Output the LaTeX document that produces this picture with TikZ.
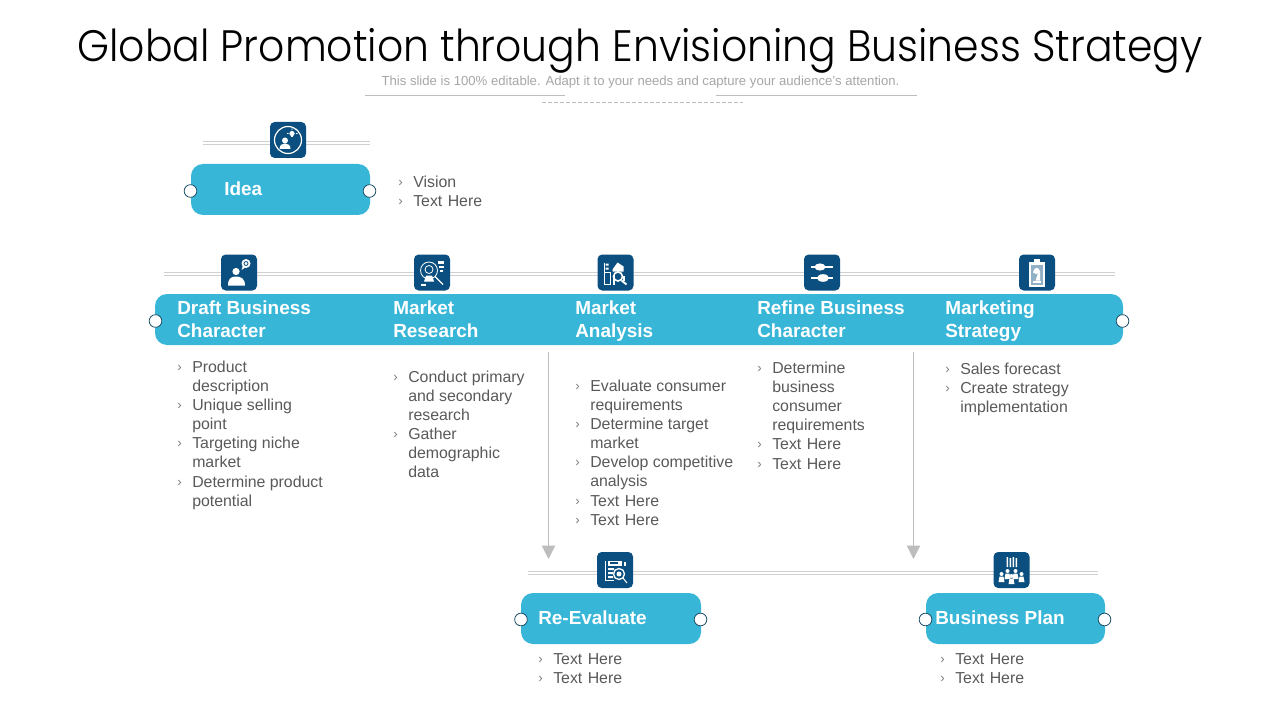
\documentclass[tikz,border=0pt]{standalone}
\usepackage{fontspec}
\setmainfont{Liberation Sans}
\newfontfamily\titlefont{Poppins Light}
\usetikzlibrary{arrows.meta}
\definecolor{pillblue}{HTML}{38B6D8}
\definecolor{icondark}{HTML}{0A4F7F}
\definecolor{bodygrey}{HTML}{595959}
\definecolor{chevgrey}{HTML}{7F7F7F}
\definecolor{subgrey}{HTML}{A6A6A6}
\definecolor{rulegrey}{HTML}{D0D0D0}
\definecolor{arrowgrey}{HTML}{BDBDBD}
\definecolor{ringdark}{HTML}{1C4F66}
\tikzset{
  pill/.style={fill=pillblue,draw=none,rounded corners=9pt},
  ring/.style={circle,fill=white,draw=ringdark,line width=.6pt,minimum size=9.5pt,inner sep=0pt},
  headtext/.style={anchor=north west,inner sep=0pt,align=left,text=white,font=\fontsize{14.2}{17.2}\selectfont\bfseries},
  bodytext/.style={anchor=north west,inner sep=0pt,align=left,text=bodygrey,font=\fontsize{11.9}{14.35}\selectfont},
  chev/.style={anchor=north west,inner sep=0pt,text=chevgrey,font=\fontsize{10}{12}\selectfont},
  iconbox/.style={fill=icondark,rounded corners=3.5pt,minimum size=27pt,inner sep=0pt,draw=none},
  railline/.style={draw=rulegrey,line width=.75pt},
  downarrow/.style={draw=arrowgrey,line width=.75pt,-{Triangle[length=10pt,width=10pt,fill=arrowgrey]}},
  ico/.style={fill=white,draw=none},
  icol/.style={draw=white,line width=.6pt,fill=none},
  titletext/.style={inner sep=0pt,font=\titlefont\fontsize{33}{40}\selectfont,text=black},
  subtext/.style={inner sep=0pt,text=subgrey,font=\fontsize{9.85}{12}\selectfont},
}
\newcommand{\tthere}{Text\hspace{.34em}Here}
\newcommand{\bitem}[4]{%
  \node[chev] (#1c) at (#2,#3+5) {›};
  \node[bodytext] (#1) at (#2+15,#3) {\rule{0pt}{9pt}#4};
}
\newcommand{\headt}[4]{\node[headtext] (#1) at (#2,#3) {\rule{0pt}{11pt}#4};}
\begin{document}
\begin{tikzpicture}[x=.75pt,y=-.75pt]
\useasboundingbox (0,0) rectangle (1280,720);
% title
\node[titletext,xscale=.93] (title) at (640,50.5) {Global Promotion through Envisioning Business Strategy};
\node[subtext] (sub) at (640.5,82.5) {This slide is 100\%{} editable. Adapt it to your needs and capture your audience's attention.};
\coordinate (tl1) at (365,95.5);\coordinate (tl2) at (565,95.5);
\coordinate (tr1) at (716,95.5);\coordinate (tr2) at (917,95.5);
\coordinate (td1) at (542,102.5);\coordinate (td2) at (743,102.5);
\draw[draw=arrowgrey,line width=.6pt] (tl1)--(tl2) (tr1)--(tr2);
\draw[draw=arrowgrey,line width=.6pt,dash pattern=on 3pt off 1.5pt] (td1)--(td2);
% rails
\foreach \ya in {141.5,144.5}{
  \coordinate (ra1) at (203,\ya);\coordinate (ra2) at (370,\ya);
  \draw[railline] (ra1)--(ra2);}
\foreach \ya in {272.5,275.5}{
  \coordinate (rb1) at (164,\ya);\coordinate (rb2) at (1115,\ya);
  \draw[railline] (rb1)--(rb2);}
\foreach \ya in {571.5,574.5}{
  \coordinate (rc1) at (528,\ya);\coordinate (rc2) at (1098,\ya);
  \draw[railline] (rc1)--(rc2);}
% pills
\path[pill] (191,164) rectangle (370,215);
\path[pill] (155,294) rectangle (1123,345);
\path[pill] (521,593) rectangle (701,644);
\path[pill] (926,593) rectangle (1105,644);
\node[ring] (r1) at (190.5,191) {};
\node[ring] (r2) at (369.5,191) {};
\node[ring] (r3) at (155.5,321) {};
\node[ring] (r4) at (1122.5,321) {};
\node[ring] (r5) at (521,619.5) {};
\node[ring] (r6) at (700.5,619.5) {};
\node[ring] (r7) at (925.5,619.5) {};
\node[ring] (r8) at (1104.5,619.5) {};
% arrows
\coordinate (a1s) at (548.5,352);\coordinate (a1e) at (548.5,559);
\coordinate (a2s) at (913.5,352);\coordinate (a2e) at (913.5,559);
\draw[downarrow] (a1s)--(a1e);
\draw[downarrow] (a2s)--(a2e);
% headings
\headt{hidea}{224}{181}{Idea}
\headt{hdraft}{177}{300}{Draft Business\\Character}
\headt{hres}{393}{300}{Market\\Research}
\headt{hana}{575}{300}{Market\\Analysis}
\headt{href}{757}{300}{Refine Business\\Character}
\headt{hmkt}{945}{300}{Marketing\\Strategy}
\headt{hree}{538}{610}{Re-Evaluate}
\headt{hbp}{935}{610}{Business Plan}
% bullets
\bitem{b1}{398}{175}{Vision}
\bitem{b2}{398}{194}{\tthere}
\bitem{d1}{177}{360}{Product\\description}
\bitem{d2}{177}{398}{Unique selling\\point}
\bitem{d3}{177}{436}{Targeting niche\\market}
\bitem{d4}{177}{475}{Determine product\\potential}
\bitem{m1}{393}{370}{Conduct primary\\and secondary\\research}
\bitem{m2}{393}{427}{Gather\\demographic\\data}
\bitem{n1}{575}{379}{Evaluate consumer\\requirements}
\bitem{n2}{575}{417}{Determine target\\market}
\bitem{n3}{575}{455}{Develop competitive\\analysis}
\bitem{n4}{575}{494}{\tthere}
\bitem{n5}{575}{513}{\tthere}
\bitem{f1}{757}{361}{Determine\\business\\consumer\\requirements}
\bitem{f2}{757}{437}{\tthere}
\bitem{f3}{757}{457}{\tthere}
\bitem{s1}{945}{362}{Sales forecast}
\bitem{s2}{945}{381}{Create strategy\\implementation}
\bitem{e1}{538}{652}{\tthere}
\bitem{e2}{538}{671}{\tthere}
\bitem{p1}{940}{652}{\tthere}
\bitem{p2}{940}{671}{\tthere}
% icon boxes
\node[iconbox] (i1) at (288,140) {};
\node[iconbox] (i2) at (239,272.5) {};
\node[iconbox] (i3) at (432,272.5) {};
\node[iconbox] (i4) at (615.5,272.5) {};
\node[iconbox] (i5) at (822,272.5) {};
\node[iconbox] (i6) at (1037,272.5) {};
\node[iconbox] (i7) at (615,570) {};
\node[iconbox] (i8) at (1011.5,570) {};
% icon 1: person and bulb in a ring
\begin{scope}[shift={(288,140)}]
  \draw[draw=white,line width=.9pt] (0,0) circle (13.5);
  \fill[ico] (-3,.5) circle (3);
  \fill[ico] (-8.5,9) .. controls (-8.5,5) and (-6,3.5) .. (-3,3.5) .. controls (0,3.5) and (2.5,5) .. (2.5,9) -- cycle;
  \fill[ico] (4,-6.5) circle (2.6);
  \fill[ico] (3,-4.5) rectangle (5,-2.5);
  \draw[icol] (-1,-6.5)--(.5,-6.5) (4,-11.5)--(4,-10) (7.5,-10)--(8.5,-11) (8,-6.5)--(9.5,-6.5);
\end{scope}
% icon 2: person with speech bubble
\begin{scope}[shift={(239,272.5)}]
  \fill[ico] (-3,-1) circle (3.6);
  \fill[ico] (-11,13) .. controls (-11,6) and (-8,4) .. (-3,4) .. controls (2,4) and (6,6) .. (6,13) -- cycle;
  \fill[ico] (7,-9) circle (4.5);
  \fill[ico] (2.5,-2.5) -- (4,-7) -- (6,-5) -- cycle;
  \draw[draw=icondark,line width=.6pt] (7,-9) circle (2);
\end{scope}
% icon 3: head and magnifier
\begin{scope}[shift={(432,272.5)}]
  \draw[icol] (-3,-2) circle (8.5);
  \draw[icol] (-3,-3) circle (4);
  \fill[ico] (-8,9) -- (-6,3) -- (0,3) -- (2,9) -- cycle;
  \draw[draw=white,line width=1pt] (3,4)--(11,12);
  \fill[ico] (6,-12) rectangle (12,-9);
  \fill[ico] (7,-7) rectangle (12,-5);
  \fill[ico] (8,-3) rectangle (11,-1);
  \fill[ico] (-11,11) rectangle (-6,13);
\end{scope}
% icon 4: chart and magnifier
\begin{scope}[shift={(615.5,272.5)}]
  \draw[icol] (-11,-10)--(-11,12)--(-5,12)--(-5,0)--(-11,0);
  \fill[ico] (-3,-3) -- (2,-10) -- (8,-6) -- (8,-1) -- (-3,-1) -- cycle;
  \fill[ico] (-3,3) rectangle (-1,12);
  \fill[ico] (7,3) rectangle (9,8);
  \draw[draw=white,line width=1.2pt] (2.5,4) circle (4.5);
  \draw[draw=white,line width=1.4pt] (6,8)--(11,12);
  \fill[ico] (-10,-9) rectangle (-7,-7) (-10,-5) rectangle (-7,-3);
\end{scope}
% icon 5: sliders
\begin{scope}[shift={(822,272.5)}]
  \draw[draw=white,line width=.9pt] (-11,-5.5)--(11,-5.5) (-11,5.5)--(11,5.5);
  \fill[ico] (-2,-5.5) ellipse (5.5 and 3.6);
  \fill[ico] (1,5.5) ellipse (6 and 3.8);
\end{scope}
% icon 6: clipboard with chess knight
\begin{scope}[shift={(1037,272.5)}]
  \fill[ico] (-8,-11) rectangle (8,14);
  \fill[ico] (-3,-14) rectangle (3,-10);
  \fill[fill=icondark!45] (-6,-8) rectangle (6,12);
  \fill[ico] (-4,10.5) rectangle (4,8);
  \fill[ico] (-1.5,8) -- (3,8) -- (3,-1) .. controls (2,-6) and (-3,-6) .. (-4,0) -- (-1,1.5) -- (1,.5) -- cycle;
\end{scope}
% icon 7: form with magnifier
\begin{scope}[shift={(615,570)}]
  \draw[icol] (-10,-9) -- (-10,10) -- (-1,10);
  \fill[ico] (-7,-9) rectangle (7,-4);
  \fill[fill=icondark] (-5,-8) rectangle (3,-6);
  \fill[ico] (9,-8) rectangle (11,-4);
  \fill[ico] (-7,-2) rectangle (-1,0) (-7,2) rectangle (-2,4) (-7,6) rectangle (-2,8);
  \draw[draw=white,line width=1pt] (4,4) circle (5.5);
  \fill[ico] (4,4) circle (2.5);
  \draw[draw=white,line width=.8pt] (8,8)--(12,13);
\end{scope}
% icon 8: team and bars
\begin{scope}[shift={(1011.5,570)}]
  \fill[ico] (-5,-13) rectangle (-3.5,-3) (-2,-12) rectangle (-.5,-3) (1,-13) rectangle (2.5,-3) (4,-12) rectangle (5.5,-3);
  \foreach \px/\py in {-10/4,-4/1,4/1,10/4,0/6}{
    \fill[ico] (\px,\py) circle (2);
    \fill[ico] (\px-3,\py+8) -- (\px-2,\py+2.5) -- (\px+2,\py+2.5) -- (\px+3,\py+8) -- cycle;
  }
\end{scope}
\end{tikzpicture}
\end{document}
